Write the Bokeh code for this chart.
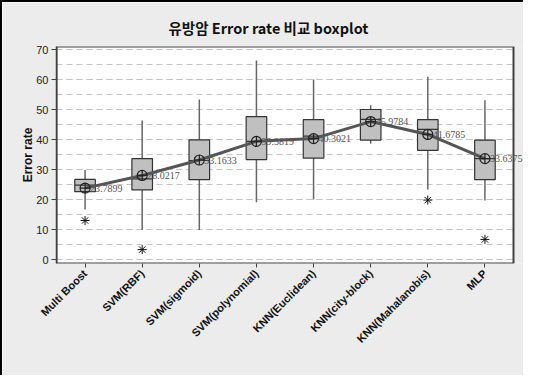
from bokeh.plotting import figure
from bokeh.models import Range1d, FixedTicker, SingleIntervalTicker, ColumnDataSource, LabelSet
from bokeh.embed import file_html
from bokeh.resources import INLINE
import math

categories = ["Multi Boost", "SVM(RBF)", "SVM(sigmoid)", "SVM(polynomial)",
              "KNN(Euclidean)", "KNN(city-block)", "KNN(Mahalanobis)", "MLP"]
whisker_low = [16.7, 9.8, 9.8, 19.1, 20.0, 38.6, 23.3, 19.7]
q1 = [22.6, 23.2, 26.6, 33.3, 33.8, 39.8, 36.4, 26.6]
median = [24.8, 26.9, 33.0, 39.4, 41.1, 46.7, 43.4, 33.6]
q3 = [26.7, 33.6, 39.9, 47.6, 46.6, 50.0, 46.6, 39.8]
whisker_high = [29.8, 46.3, 53.3, 66.3, 60.0, 51.4, 60.9, 53.1]
means = [23.7899, 28.0217, 33.1633, 39.3819, 40.3021, 45.9784, 41.6785, 33.6375]
outlier_cat = ["Multi Boost", "SVM(RBF)", "KNN(Mahalanobis)", "MLP"]
outlier_val = [13.0, 3.3, 19.8, 6.7]
y_ticks_interval = 10

# category positions on a numeric axis (1..n)
pos = {c: i + 1 for i, c in enumerate(categories)}
xs = [pos[c] for c in categories]
n = len(categories)
box_w = 0.36
y_lo, y_hi = -1.33, 71.0

src = ColumnDataSource(dict(x=xs, lo=whisker_low, q1=q1, med=median, q3=q3,
                            hi=whisker_high, mean=means,
                            mx0=[x - box_w / 2 for x in xs], mx1=[x + box_w / 2 for x in xs],
                            lbl=["%.4f" % m for m in means]))

p = figure(width=523, height=375, output_backend="svg", toolbar_location=None,
           x_range=Range1d(0.5, n + 0.6926), y_range=Range1d(y_lo, y_hi))
p.min_border_left = 54
p.min_border_right = 1
p.min_border_top = 44
p.min_border_bottom = 114
p.background_fill_color = "white"
p.border_fill_color = "#ececec"
p.outline_line_color = None
p.styles = {"border-top": "2px solid black", "border-left": "2px solid black"}

# title
p.title.text = "유방암 Error rate 비교 boxplot"
p.title.align = "left"
p.title.offset = 112
p.title.standoff = 17
p.title.text_font = "Noto Sans CJK KR"
p.title.text_font_size = "14.5px"
p.title.text_font_style = "bold"
p.title.text_color = "#111111"

# grid
p.xgrid.grid_line_color = None
p.ygrid.grid_line_color = "#c4c4c4"
p.ygrid.grid_line_dash = "6 4"
p.ygrid.minor_grid_line_color = "#c4c4c4"
p.ygrid.minor_grid_line_dash = "6 4"

# axes
p.yaxis.ticker = SingleIntervalTicker(interval=y_ticks_interval, num_minor_ticks=2)
p.yaxis.minor_tick_line_color = None
p.yaxis.major_tick_in = 0
p.yaxis.major_tick_out = 5
p.yaxis.axis_line_color = "#404040"
p.yaxis.axis_line_width = 1.5
p.yaxis.major_tick_line_color = "#404040"
p.yaxis.major_label_text_font = "Liberation Sans"
p.yaxis.major_label_text_font_size = "11px"
p.yaxis.major_label_text_color = "#222222"
p.yaxis.major_label_standoff = 3
p.yaxis.axis_label = "Error rate"
p.yaxis.axis_label_text_font = "Liberation Sans"
p.yaxis.axis_label_text_font_size = "12px"
p.yaxis.axis_label_text_font_style = "bold"
p.yaxis.axis_label_text_color = "#111111"
p.yaxis.axis_label_standoff = -2

p.xaxis.ticker = FixedTicker(ticks=xs)
p.xaxis.major_label_overrides = {x: c for x, c in zip(xs, categories)}
p.xaxis.minor_tick_line_color = None
p.xaxis.major_tick_in = 0
p.xaxis.major_tick_out = 4
p.xaxis.axis_line_color = None
p.xaxis.major_tick_line_color = "#404040"
p.xaxis.major_label_orientation = math.pi / 4
p.xaxis.major_label_text_font = "Liberation Sans"
p.xaxis.major_label_text_font_size = "11px"
p.xaxis.major_label_text_font_style = "bold"
p.xaxis.major_label_text_color = "#111111"
p.xaxis.major_label_standoff = 4

# gray strip right of the data frame, and the frame border
p.quad(left=[n + 0.5], right=[n + 2], bottom=[y_lo - 10], top=[y_hi + 10],
       fill_color="#ececec", line_color=None)
p.quad(left=[0.5], right=[n + 0.5], bottom=[y_lo], top=[y_hi],
       fill_color=None, line_color="#404040", line_width=2)

# whiskers
p.segment(x0="x", x1="x", y0="q3", y1="hi", source=src, line_color="#666666", line_width=1.5)
p.segment(x0="x", x1="x", y0="lo", y1="q1", source=src, line_color="#666666", line_width=1.5)
# boxes
p.vbar(x="x", width=box_w, top="q3", bottom="q1", source=src,
       fill_color="#c0c0c0", line_color="#333333", line_width=1.2)
# medians
p.segment(x0="mx0", x1="mx1", y0="med", y1="med", source=src,
          line_color="#333333", line_width=1.2)
# mean connect line
p.line(x="x", y="mean", source=src, line_color="#555555", line_width=3)
p.scatter(x="x", y="mean", source=src, marker="circle_cross", size=10,
          fill_color=None, line_color="#222222", line_width=1.2)
p.add_layout(LabelSet(x="x", y="mean", text="lbl", source=src, x_offset=5,
                      text_baseline="middle", text_align="left",
                      text_font="DejaVu Sans Condensed", text_font_size="10px",
                      text_color="#555555"))
# outliers
p.scatter(x=[pos[c] for c in outlier_cat], y=outlier_val, marker="asterisk", size=9,
          line_color="#111111", line_width=1)

open("out.html", "w").write(file_html(p, INLINE))
